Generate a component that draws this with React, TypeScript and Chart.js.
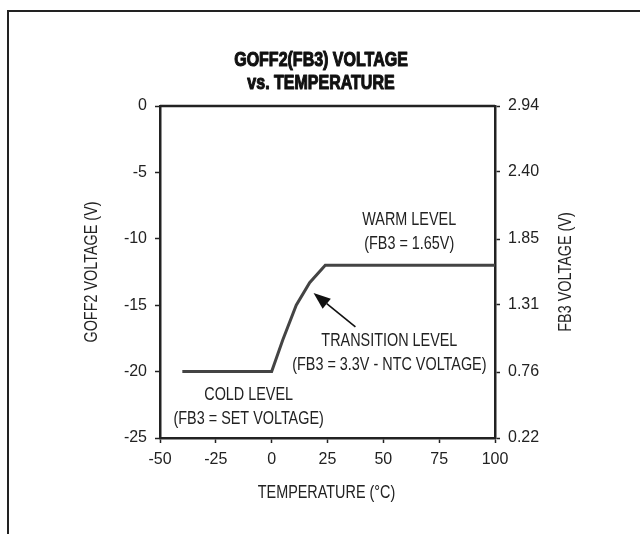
import React, { useEffect, useRef } from "react";
import { Chart, registerables } from "chart.js";

Chart.register(...registerables);

// ---- data ----
const temperatures = [-40, 0, 5, 11, 17, 24, 100];
const goff2Voltage = [-20, -20, -17.6, -15, -13.3, -12, -12];
const xTicks = [-50, -25, 0, 25, 50, 75, 100];
const leftTicks = [-25, -20, -15, -10, -5, 0];
const fb3Ticks = [0.22, 0.76, 1.31, 1.85, 2.4, 2.94];
const titleLines = ["GOFF2(FB3) VOLTAGE", "vs. TEMPERATURE"];
const xTitle = "TEMPERATURE (°C)";
const yTitle = "GOFF2 VOLTAGE (V)";
const y2Title = "FB3 VOLTAGE (V)";
const annotations = [
  { lines: ["WARM LEVEL", "(FB3 = 1.65V)"], x: 61.6, y: -8.6 },
  { lines: ["TRANSITION LEVEL", "(FB3 = 3.3V - NTC VOLTAGE)"], x: 52.7, y: -17.7 },
  { lines: ["COLD LEVEL", "(FB3 = SET VOLTAGE)"], x: -10.3, y: -21.76 },
];
const arrowFrom = { x: 37.5, y: -16.64 };
const arrowTo = { x: 18.75, y: -14.08 };

const FONT = "'Liberation Sans', Arial, sans-serif";
const INK = "#222";
const SQUEEZE = 0.8;

function squeezedText(ctx: CanvasRenderingContext2D, text: string, x: number, y: number, rot = 0) {
  ctx.save();
  ctx.translate(x, y);
  if (rot) ctx.rotate(rot);
  ctx.scale(SQUEEZE, 1);
  ctx.fillText(text, 0, 0);
  ctx.restore();
}

const decorPlugin = {
  id: "decor",
  beforeDraw(chart: any) {
    const ctx = chart.ctx;
    ctx.save();
    ctx.fillStyle = "#fff";
    ctx.fillRect(0, 0, chart.width, chart.height);
    ctx.restore();
  },
  afterDraw(chart: any) {
    const ctx = chart.ctx as CanvasRenderingContext2D;
    const { left, right, top, bottom } = chart.chartArea;
    const xs = chart.scales.x;
    const ys = chart.scales.y;
    ctx.save();
    // outer frame (left and top edges visible)
    ctx.strokeStyle = INK;
    ctx.lineWidth = 2;
    ctx.beginPath();
    ctx.moveTo(8, chart.height);
    ctx.lineTo(8, 11);
    ctx.lineTo(chart.width, 11);
    ctx.stroke();
    // top border of plot box
    ctx.lineWidth = 2.5;
    ctx.beginPath();
    ctx.moveTo(left, top);
    ctx.lineTo(right, top);
    ctx.stroke();

    // title
    ctx.fillStyle = "#111";
    ctx.strokeStyle = "#111";
    ctx.lineWidth = 1.1;
    ctx.lineJoin = "round";
    ctx.textAlign = "center";
    ctx.textBaseline = "middle";
    ctx.font = `bold 20px ${FONT}`;
    titleLines.forEach((t, i) => {
      ctx.save();
      ctx.translate(321, 60 + i * 23);
      ctx.scale(SQUEEZE, 1);
      ctx.fillText(t, 0, 0);
      ctx.strokeText(t, 0, 0);
      ctx.restore();
    });

    // axis titles
    ctx.fillStyle = INK;
    ctx.font = `18px ${FONT}`;
    squeezedText(ctx, xTitle, (left + right) / 2 - 1, 493);
    squeezedText(ctx, yTitle, 92, (top + bottom) / 2, -Math.PI / 2);
    squeezedText(ctx, y2Title, 566, (top + bottom) / 2, -Math.PI / 2);

    // annotations
    annotations.forEach((a) => {
      const cx = xs.getPixelForValue(a.x);
      const cy = ys.getPixelForValue(a.y);
      a.lines.forEach((t, i) => squeezedText(ctx, t, cx, cy + i * 24));
    });

    // arrow
    const x1 = xs.getPixelForValue(arrowFrom.x);
    const y1 = ys.getPixelForValue(arrowFrom.y);
    const x2 = xs.getPixelForValue(arrowTo.x);
    const y2 = ys.getPixelForValue(arrowTo.y);
    const ang = Math.atan2(y2 - y1, x2 - x1);
    const headLen = 17;
    const headW = 6.5;
    const bx = x2 - headLen * Math.cos(ang);
    const by = y2 - headLen * Math.sin(ang);
    ctx.strokeStyle = "#111";
    ctx.lineWidth = 1.6;
    ctx.beginPath();
    ctx.moveTo(x1, y1);
    ctx.lineTo(bx, by);
    ctx.stroke();
    ctx.fillStyle = "#111";
    ctx.beginPath();
    ctx.moveTo(x2, y2);
    ctx.lineTo(bx + headW * Math.sin(ang), by - headW * Math.cos(ang));
    ctx.lineTo(bx - headW * Math.sin(ang), by + headW * Math.cos(ang));
    ctx.closePath();
    ctx.fill();
    ctx.restore();
  },
};

const tickFont = { family: FONT, size: 16 };
const gridCfg = {
  drawOnChartArea: false,
  drawTicks: true,
  tickLength: 5,
  tickColor: INK,
  tickWidth: 1.5,
  color: INK,
};
const borderCfg = { display: true, color: INK, width: 2.5 };

export default function App() {
  const ref = useRef<HTMLCanvasElement>(null);
  useEffect(() => {
    if (!ref.current) return;
    const chart = new Chart(ref.current, {
      type: "line",
      data: {
        datasets: [
          {
            data: temperatures.map((t, i) => ({ x: t, y: goff2Voltage[i] })),
            borderColor: "#444",
            borderWidth: 3,
            pointRadius: 0,
            tension: 0,
            fill: false,
            yAxisID: "y",
          },
        ],
      },
      options: {
        responsive: false,
        animation: false,
        layout: { padding: { top: 106, left: 0, right: 0, bottom: 0 } },
        plugins: {
          legend: { display: false },
          tooltip: { enabled: false },
          title: { display: false },
        },
        scales: {
          x: {
            type: "linear",
            min: -50,
            max: 100,
            afterBuildTicks: (s: any) => {
              s.ticks = xTicks.map((v) => ({ value: v }));
            },
            afterFit: (s: any) => {
              s.height = 96;
            },
            grid: gridCfg,
            border: borderCfg,
            ticks: {
              padding: 7,
              color: INK,
              font: tickFont,
              maxRotation: 0,
              autoSkip: false,
            },
          },
          y: {
            type: "linear",
            position: "left",
            min: -25,
            max: 0,
            afterBuildTicks: (s: any) => {
              s.ticks = leftTicks.map((v) => ({ value: v }));
            },
            afterFit: (s: any) => {
              s.width = 160;
            },
            grid: gridCfg,
            border: borderCfg,
            ticks: { padding: 8, color: INK, font: tickFont, autoSkip: false },
          },
          y2: {
            type: "linear",
            position: "right",
            min: 0.22,
            max: 2.94,
            afterBuildTicks: (s: any) => {
              s.ticks = fb3Ticks.map((v) => ({ value: v }));
            },
            afterFit: (s: any) => {
              s.width = 145;
            },
            grid: gridCfg,
            border: borderCfg,
            ticks: {
              padding: 8,
              color: INK,
              font: tickFont,
              autoSkip: false,
              callback: (v: any) => Number(v).toFixed(2),
            },
          },
        },
      },
      plugins: [decorPlugin],
    });
    return () => chart.destroy();
  }, []);
  return (
    <div style={{ position: "fixed", left: 0, top: 0, width: 640, height: 534, background: "#fff" }}>
      <canvas ref={ref} width={640} height={534} style={{ display: "block" }} />
    </div>
  );
}
